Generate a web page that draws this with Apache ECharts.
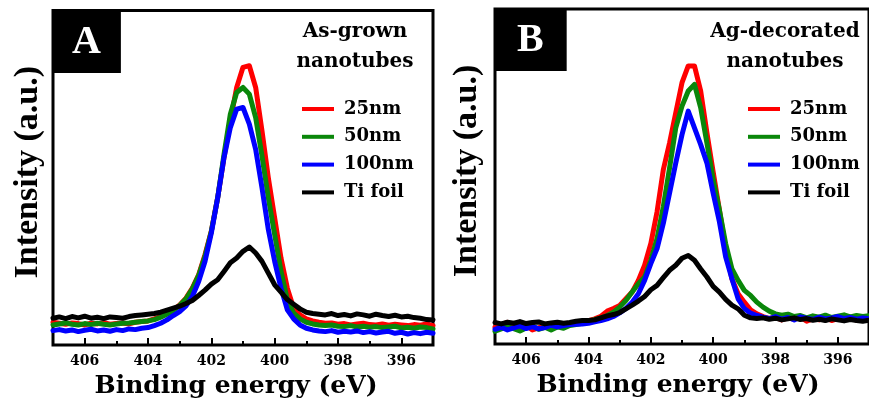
<!DOCTYPE html>
<html><head><meta charset="utf-8">
<script src="https://cdn.jsdelivr.net/npm/echarts@6/dist/echarts.min.js"></script>
<style>html,body{margin:0;padding:0;background:#fff}#c{width:869px;height:406px}</style>
</head><body><div id="c"></div>
<script>
// Binding energy sampling (eV)
const energy = [407.0,406.8,406.6,406.4,406.2,406.0,405.8,405.6,405.4,405.2,
 405.0,404.8,404.6,404.4,404.2,404.0,403.8,403.6,403.4,403.2,
 403.0,402.8,402.6,402.4,402.2,402.0,401.8,401.6,401.4,401.2,
 401.0,400.8,400.6,400.4,400.2,400.0,399.8,399.6,399.4,399.2,
 399.0,398.8,398.6,398.4,398.2,398.0,397.8,397.6,397.4,397.2,
 397.0,396.8,396.6,396.4,396.2,396.0,395.8,395.6,395.4,395.2,395.0];
const majorTicks = [406,404,402,400,398,396];
const minorTicks = [405,403,401,399,397];
const seriesNames = ['25nm','50nm','100nm','Ti foil'];
const seriesColors = ['#ff0000','#0a870a','#0000ff','#000000'];

// Panel A: As-grown nanotubes
const aRed = [6.8,6.5,6.2,6.6,6.4,6.0,6.5,6.3,6.7,6.2,6.4,6.6,6.3,6.8,7.0,
 7.2,7.8,8.5,9.5,10.5,12,14,17,21,27,34,44,56,67,77,83,83.5,77,64,50,38,26,17,11,9,7.8,
 7.2,6.8,6.5,6.6,6.2,6.4,6.0,6.3,6.5,6.1,6.0,6.3,5.9,6.2,6.0,5.8,6.1,5.9,6.3,5.8];
const aGreen = [6.0,6.3,6.6,6.2,6.0,6.4,6.1,6.5,6.2,6.0,6.3,6.5,6.6,6.8,7.0,
 7.2,7.6,8.3,9.2,10.3,11.8,13.8,16.8,20.8,26.5,34,44,57,69,75.5,77,75,68,56.5,44,33,22,13.5,9.5,7.8,6.8,
 6.3,6.0,5.8,6.0,5.6,5.5,5.8,5.4,5.6,5.3,5.5,5.2,5.4,5.6,5.1,5.3,5.0,5.4,5.2,4.8];
const aBlue = [4.3,4.6,4.2,4.5,4.0,4.4,4.7,4.2,4.5,4.1,4.6,4.3,4.8,4.6,5.0,
 5.2,5.8,6.5,7.5,8.8,10,11.7,14.5,19,25,33.5,44,56,65,70.5,71,66,58.5,47,34.5,25,17,10.5,7.8,6,5,
 4.5,4.2,4.0,4.3,3.8,4.1,3.9,4.2,3.7,4.0,3.6,3.9,4.1,3.5,3.8,3.3,3.7,3.4,3.8,3.5];
const aBlack = [8.0,8.4,7.9,8.5,8.1,8.6,8.0,8.3,7.9,8.4,8.2,8.0,8.5,8.8,9.0,
 9.2,9.4,9.8,10.4,11.0,11.6,12.4,13.3,14.8,16.4,18.2,19.5,22,24.6,26,28,29.3,27.5,25,21.5,18,15.8,13.6,12.2,10.8,9.8,9.4,
 9.2,9.0,9.4,8.8,9.1,8.7,9.3,9.0,8.6,9.2,8.8,8.5,8.9,8.4,8.6,8.2,8.0,7.6,7.5];

// Panel B: Ag-decorated nanotubes
const bRed = [5.0,5.8,6.5,5.2,4.6,5.5,4.2,4.8,5.6,5.0,5.8,5.2,6.0,6.4,6.6,
 7.0,7.5,8.3,9.8,10.6,11.5,13.5,15.5,19,23.5,30,39.5,52,60,69,78,83,83,75.5,63,51.4,40,28.5,19.5,15,12.5,10.2,9,
 8.2,7.6,8.0,7.2,7.8,7.4,8.0,6.8,7.5,7.2,7.8,7.0,7.6,7.3,7.9,7.1,7.4,7.2];
const bGreen = [3.8,4.5,5.2,4.6,3.9,4.8,5.4,4.4,5.0,4.2,5.1,4.7,5.5,5.8,6.2,
 6.8,7.3,7.8,8.5,9.5,11,13,15.5,18,20,25,31.5,41,52.5,64.5,71,75.5,77.5,70.5,60,49,40,30,22.5,19,16,14.5,12.5,11,9.8,9.0,
 8.6,8.9,8.2,8.5,7.8,8.4,8.0,8.6,7.9,8.3,8.7,8.1,8.5,8.2,8.4];
const bBlue = [4.4,5.0,4.2,4.8,5.4,4.6,5.2,4.5,4.9,5.6,5.1,5.5,5.8,5.9,6.0,
 6.2,6.6,7.0,7.5,8.2,9.3,10.6,12.5,15,19,24,28.5,36,45,54,62.5,69.5,64.5,59.5,54,45,36.5,26,19.5,13.5,10.6,9.2,8.5,
 8.0,7.6,8.2,7.4,7.9,7.2,8.1,7.7,7.3,8.0,7.5,7.8,8.2,7.6,7.9,7.4,7.8,7.5];
const bBlack = [6.4,6.0,6.5,6.2,6.7,6.1,6.4,6.6,6.0,6.3,6.5,6.2,6.4,6.8,7.0,
 7.0,7.2,7.8,8.4,8.8,9.4,10.5,11.6,12.8,14.2,16.2,17.5,19.8,22,23.5,25.6,26.4,25,22.4,20,17.2,15.5,13.3,11.6,10.5,8.6,7.8,
 7.6,7.8,7.4,7.7,7.2,7.5,7.8,7.3,7.6,7.1,7.4,7.0,7.5,7.2,6.9,7.3,7.0,6.8,7.1];

const SERIF = '"DejaVu Serif", serif';
const TIMES = '"Liberation Serif", "Times New Roman", serif';

function pairs(vals){ return energy.map((e,i)=>[e, vals[i]]); }

function xAxesFor(gi, namePad){
  return [
    {type:'value', gridIndex:gi, position:'bottom', min:395, max:407, inverse:true,
     axisLine:{show:false}, splitLine:{show:false},
     axisTick:{show:true, inside:true, length:7, customValues:majorTicks, lineStyle:{color:'#000', width:2}},
     axisLabel:{show:true, customValues:majorTicks, margin:9, color:'#000', fontFamily:SERIF, fontWeight:'bold', fontSize:14},
     name:'Binding energy (eV)', nameLocation:'middle', nameGap:29,
     nameTextStyle:{color:'#000', fontFamily:SERIF, fontWeight:'bold', fontSize:25, padding:namePad}},
    {type:'value', gridIndex:gi, position:'bottom', min:395, max:407, inverse:true,
     axisLine:{show:false}, splitLine:{show:false},
     axisTick:{show:true, inside:true, length:4, customValues:minorTicks, lineStyle:{color:'#000', width:2}},
     axisLabel:{show:false}}
  ];
}
function yAxisFor(gi, gap){
  return {type:'value', gridIndex:gi, position:'left', min:0, max:100,
    axisLine:{show:false}, axisTick:{show:false}, axisLabel:{show:false}, splitLine:{show:false},
    name:'Intensity (a.u.)', nameLocation:'middle', nameGap:gap,
    nameTextStyle:{color:'#000', fontFamily:TIMES, fontWeight:'bold', fontSize:34, padding:[0,0,0,11]}};
}
function legendFor(left){
  return {left:left, top:99, orient:'vertical', padding:0, itemGap:7.8, itemWidth:32, itemHeight:4,
    icon:'rect', selectedMode:false, data:seriesNames,
    textStyle:{color:'#000', fontFamily:SERIF, fontWeight:'bold', fontSize:18, lineHeight:20, padding:[0,0,0,5]}};
}
const panelA = [aRed, aGreen, aBlue, aBlack];
const panelB = [bRed, bGreen, bBlue, bBlack];
const series = [];
[panelA, panelB].forEach((panel, gi) => {
  panel.forEach((vals, k) => {
    series.push({type:'line', name:seriesNames[k], xAxisIndex:gi*2, yAxisIndex:gi,
      data:pairs(vals), showSymbol:false, symbol:'none',
      lineStyle:{color:seriesColors[k], width:5, cap:'round', join:'round'},
      itemStyle:{color:seriesColors[k]}, z:2+k});
  });
});

const option = {
  animation:false,
  backgroundColor:'#fff',
  title:[
    {text:'A', left:52, top:10, padding:[13,20,10,20], backgroundColor:'#000',
     textStyle:{color:'#fff', fontFamily:TIMES, fontWeight:'bold', fontSize:40, lineHeight:40}},
    {text:'B', left:494, top:8, padding:[13,23,10,23], backgroundColor:'#000',
     textStyle:{color:'#fff', fontFamily:TIMES, fontWeight:'bold', fontSize:40, lineHeight:40}},
    {text:'As-grown\nnanotubes', left:355, top:16.6, textAlign:'center', padding:0,
     textStyle:{color:'#000', fontFamily:SERIF, fontWeight:'bold', fontSize:20, lineHeight:30}},
    {text:'Ag-decorated\nnanotubes', left:785, top:16.6, textAlign:'center', padding:0,
     textStyle:{color:'#000', fontFamily:SERIF, fontWeight:'bold', fontSize:20, lineHeight:30}}
  ],
  legend:[legendFor(302), legendFor(748)],
  grid:[
    {left:53, top:10.5, width:380, height:334.5, show:true, borderColor:'#000', borderWidth:3, backgroundColor:'rgba(0,0,0,0)'},
    {left:495, top:9, width:380, height:335, show:true, borderColor:'#000', borderWidth:3, backgroundColor:'rgba(0,0,0,0)'}
  ],
  xAxis:[...xAxesFor(0,[0,14,0,0]), ...xAxesFor(1,[0,8,0,0])],
  yAxis:[yAxisFor(0,8), yAxisFor(1,11)],
  series:series
};
const chart = echarts.init(document.getElementById('c'), null, {renderer:'canvas'});
chart.setOption(option);
</script>
</body></html>
